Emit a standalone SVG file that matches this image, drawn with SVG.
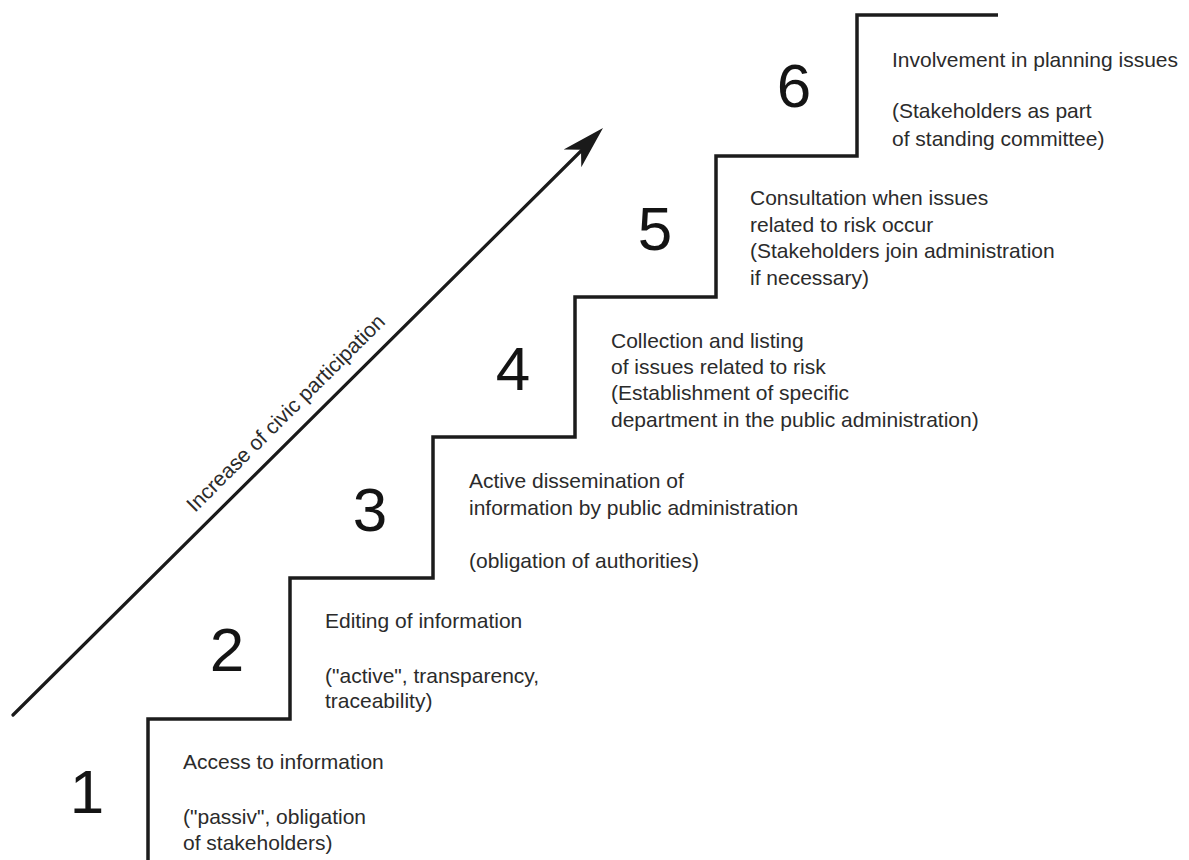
<svg xmlns="http://www.w3.org/2000/svg" width="1189" height="860" viewBox="0 0 1189 860">
  <style>
    .label { font-family: "Liberation Sans", Arial, sans-serif; font-size: 21px; fill: #2b2b2b; }
    .num { font-family: "Liberation Sans", Arial, sans-serif; font-size: 62px; fill: #141414; text-anchor: middle; }
    .stair { fill: none; stroke: #1c1c1c; stroke-width: 3.5; stroke-linejoin: miter; }
    .shaft { fill: none; stroke: #1a1a1a; stroke-width: 3.2; stroke-linecap: round; }
    .head { fill: #1a1a1a; }
  </style>
  <rect width="1189" height="860" fill="#ffffff"/>

  <!-- staircase outline -->
  <g id="stairs">
    <path class="stair" d="M148,862 V719 H290 V578 H433 V437 H575 V297 H716 V156 H857 V15 H998"/>
  </g>

  <!-- rising arrow with its caption -->
  <g id="connectors">
    <line class="shaft" x1="13" y1="715" x2="582" y2="150"/>
    <path class="head" d="M0,0 L-43,-12.5 L-31,0 L-43,12.5 Z" transform="translate(603,128) rotate(-44.8)"/>
    <text class="label" transform="translate(195,513) rotate(-44.8)">Increase of civic participation</text>
  </g>

  <g id="step-1">
    <text class="num" x="87" y="813">1</text>
    <text class="label" x="183" y="769">Access to information</text>
    <text class="label" x="183" y="824">("passiv", obligation</text>
    <text class="label" x="183" y="850">of stakeholders)</text>
  </g>

  <g id="step-2">
    <text class="num" x="227" y="671">2</text>
    <text class="label" x="325" y="628">Editing of information</text>
    <text class="label" x="325" y="683">("active", transparency,</text>
    <text class="label" x="325" y="708">traceability)</text>
  </g>

  <g id="step-3">
    <text class="num" x="370" y="531">3</text>
    <text class="label" x="469" y="488">Active dissemination of</text>
    <text class="label" x="469" y="515">information by public administration</text>
    <text class="label" x="469" y="568">(obligation of authorities)</text>
  </g>

  <g id="step-4">
    <text class="num" x="513" y="390">4</text>
    <text class="label" x="611" y="348">Collection and listing</text>
    <text class="label" x="611" y="374">of issues related to risk</text>
    <text class="label" x="611" y="400">(Establishment of specific</text>
    <text class="label" x="611" y="427">department in the public administration)</text>
  </g>

  <g id="step-5">
    <text class="num" x="655" y="250">5</text>
    <text class="label" x="750" y="205">Consultation when issues</text>
    <text class="label" x="750" y="232">related to risk occur</text>
    <text class="label" x="750" y="258">(Stakeholders join administration</text>
    <text class="label" x="750" y="285">if necessary)</text>
  </g>

  <g id="step-6">
    <text class="num" x="794" y="107">6</text>
    <text class="label" x="892" y="67">Involvement in planning issues</text>
    <text class="label" x="892" y="118">(Stakeholders as part</text>
    <text class="label" x="892" y="146">of standing committee)</text>
  </g>
</svg>
